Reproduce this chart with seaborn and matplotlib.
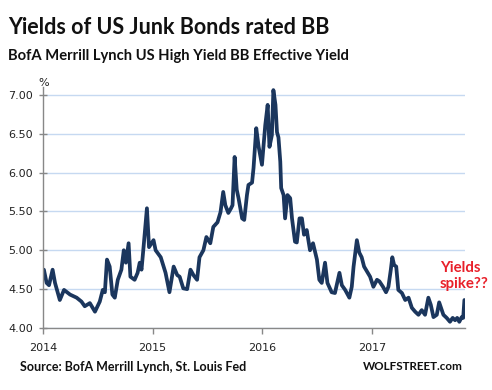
import pandas as pd
import matplotlib.pyplot as plt
import matplotlib.dates as mdates
import seaborn as sns

# BofA Merrill Lynch US High Yield BB Effective Yield, %
dates = [
    "2014-01-04", "2014-01-13", "2014-01-21", "2014-02-02", "2014-02-10", "2014-02-26",
    "2014-03-12", "2014-04-01", "2014-04-23", "2014-05-09", "2014-05-20", "2014-06-06",
    "2014-06-23", "2014-07-09", "2014-07-19", "2014-07-26", "2014-08-02", "2014-08-11",
    "2014-08-20", "2014-08-28", "2014-09-07", "2014-09-19", "2014-09-27", "2014-10-04",
    "2014-10-13", "2014-10-19", "2014-11-02", "2014-11-12", "2014-11-19", "2014-11-25",
    "2014-12-02", "2014-12-13", "2014-12-20", "2015-01-04", "2015-01-11", "2015-01-28",
    "2015-02-13", "2015-02-26", "2015-03-12", "2015-03-24", "2015-04-01", "2015-04-13",
    "2015-04-26", "2015-05-07", "2015-05-17", "2015-05-29", "2015-06-06", "2015-06-19",
    "2015-06-29", "2015-07-12", "2015-07-22", "2015-08-05", "2015-08-15", "2015-08-24",
    "2015-08-31", "2015-09-10", "2015-09-19", "2015-09-24", "2015-10-01", "2015-10-08",
    "2015-10-14", "2015-10-26", "2015-11-02", "2015-11-11", "2015-11-16", "2015-11-28",
    "2015-12-03", "2015-12-12", "2015-12-20", "2015-12-31", "2016-01-11", "2016-01-19",
    "2016-01-25", "2016-02-02", "2016-02-07", "2016-02-14", "2016-02-19", "2016-02-24",
    "2016-03-01", "2016-03-04", "2016-03-12", "2016-03-17", "2016-03-25", "2016-04-03",
    "2016-04-09", "2016-04-19", "2016-04-25", "2016-05-04", "2016-05-12", "2016-05-19",
    "2016-05-28", "2016-06-08", "2016-06-18", "2016-07-01", "2016-07-09", "2016-07-17",
    "2016-07-28", "2016-08-05", "2016-08-19", "2016-08-30", "2016-09-14", "2016-09-22",
    "2016-10-03", "2016-10-17", "2016-10-25", "2016-10-31", "2016-11-11", "2016-11-19",
    "2016-11-27", "2016-12-05", "2016-12-16", "2016-12-25", "2017-01-05", "2017-01-17",
    "2017-01-25", "2017-02-06", "2017-02-16", "2017-02-24", "2017-03-04", "2017-03-09",
    "2017-03-15", "2017-03-22", "2017-03-29", "2017-04-10", "2017-04-21", "2017-05-02",
    "2017-05-13", "2017-05-24", "2017-06-04", "2017-06-15", "2017-06-26", "2017-07-07",
    "2017-07-15", "2017-07-24", "2017-08-04", "2017-08-12", "2017-08-18", "2017-08-26",
    "2017-09-06", "2017-09-17", "2017-09-26", "2017-10-04", "2017-10-11", "2017-10-18",
    "2017-10-26", "2017-10-31", "2017-11-04",
]
yields = [
    4.75, 4.58, 4.55, 4.75, 4.58, 4.36,
    4.49, 4.43, 4.39, 4.34, 4.28, 4.32,
    4.21, 4.34, 4.49, 4.46, 4.88, 4.79,
    4.43, 4.39, 4.62, 4.75, 5.00, 4.84,
    5.09, 4.66, 4.62, 4.71, 4.84, 4.75,
    5.05, 5.54, 5.04, 5.13, 5.00, 4.91,
    4.71, 4.46, 4.79, 4.68, 4.66, 4.51,
    4.50, 4.75, 4.68, 4.62, 4.91, 5.00,
    5.17, 5.09, 5.30, 5.36, 5.49, 5.75,
    5.58, 5.48, 5.54, 5.58, 6.20, 5.78,
    5.67, 5.41, 5.39, 5.71, 5.84, 5.87,
    6.06, 6.57, 6.33, 6.10, 6.61, 6.87,
    6.33, 6.48, 7.06, 6.87, 6.52, 6.45,
    6.14, 5.80, 5.71, 5.41, 5.71, 5.67,
    5.41, 5.11, 5.10, 5.41, 5.41, 5.20,
    5.26, 5.00, 5.09, 4.88, 4.62, 4.58,
    4.84, 4.58, 4.46, 4.45, 4.71, 4.55,
    4.49, 4.39, 4.53, 4.79, 5.13, 4.97,
    4.91, 4.79, 4.72, 4.66, 4.53, 4.62,
    4.60, 4.53, 4.46, 4.53, 4.75, 4.91,
    4.81, 4.79, 4.49, 4.45, 4.36, 4.39,
    4.26, 4.21, 4.17, 4.23, 4.17, 4.39,
    4.30, 4.14, 4.17, 4.33, 4.26, 4.17,
    4.13, 4.08, 4.13, 4.10, 4.13, 4.08,
    4.14, 4.13, 4.36,
]
y_ticks = [4.0, 4.5, 5.0, 5.5, 6.0, 6.5, 7.0]
x_years = ["2014", "2015", "2016", "2017"]

df = pd.DataFrame({"date": pd.to_datetime(dates), "yield": yields})

sns.set_style("white")
plt.rcParams['font.family'] = ['DejaVu Sans']

W, H = 492, 390
fig = plt.figure(figsize=(W / 100, H / 100), dpi=100)
ax = fig.add_axes([43 / W, 1 - 328 / H, (465 - 43) / W, (328 - 87) / H])

sns.lineplot(data=df, x="date", y="yield", ax=ax, color="#1b365d", linewidth=2.7)

ax.set_ylim(4.0, 7.1)
ax.set_xlim(pd.Timestamp("2014-01-01"), pd.Timestamp("2017-11-06"))
ax.set_yticks(y_ticks)
ax.set_yticklabels([f"{v:.2f}" for v in y_ticks])
ax.set_xticks(pd.to_datetime([y + "-01-01" for y in x_years]))
ax.xaxis.set_major_formatter(mdates.DateFormatter("%Y"))
ax.set_xlabel("")
ax.set_ylabel("")

ax.grid(axis="y", color="#c6d9f1", linewidth=1)
ax.set_axisbelow(True)
for side in ["top", "right"]:
    ax.spines[side].set_visible(False)
for side in ["left", "bottom"]:
    ax.spines[side].set_color("#888888")
    ax.spines[side].set_linewidth(1)
ax.tick_params(axis="y", direction="inout", length=6, color="#888888", width=1,
               labelsize=8, labelcolor="#222222", pad=4)
ax.tick_params(axis="x", direction="out", length=4, color="#888888", width=1,
               labelsize=8, labelcolor="#222222", pad=7)
ax.tick_params(left=True, bottom=True)

fig.text(8 / W, 1 - 27 / H, "Yields of US Junk Bonds rated BB", family="Lato",
         weight="bold", fontsize=15.5, va="center", color="#111111")
fig.text(8 / W, 1 - 56 / H, "BofA Merrill Lynch US High Yield BB Effective Yield",
         family="Lato", weight="bold", fontsize=10.6, va="center", color="#111111")
fig.text(38 / W, 1 - 83 / H, "%", fontsize=8, va="center", color="#222222")
fig.text(20 / W, 1 - 367 / H, "Source: BofA Merrill Lynch, St. Louis Fed",
         family="Lato", weight="bold", fontsize=9.0, va="center", color="#111111")
fig.text(363 / W, 1 - 366 / H, "WOLFSTREET.com", family="Lato", weight="bold",
         fontsize=8.4, va="center", color="#111111")
fig.text(440 / W, 1 - 276 / H, "Yields\nspike??", family="Lato", weight="bold",
         fontsize=10.8, va="center", ha="left", color="#e8202a", linespacing=1.15)

fig.savefig("out.png", dpi=100)
